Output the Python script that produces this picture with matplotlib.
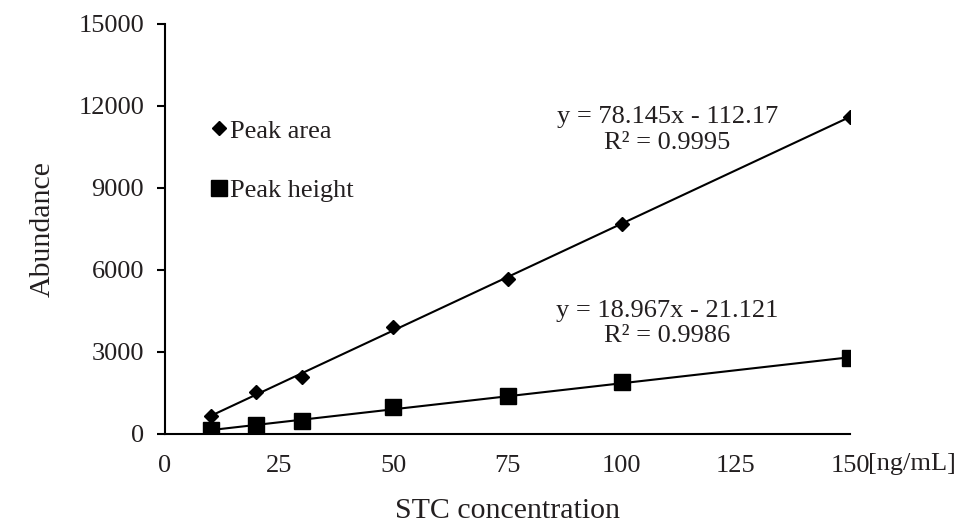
import numpy as np
import matplotlib.pyplot as plt

# concentration levels (ng/mL) and measured abundances
conc = [10, 20, 30, 50, 75, 100, 150]
peak_area = [644, 1536, 2084, 3912, 5678, 7689, 11613]
peak_height = [132, 340, 461, 973, 1375, 1887, 2779]

area_eq = "y = 78.145x - 112.17\nR² = 0.9995"
height_eq = "y = 18.967x - 21.121\nR² = 0.9986"

xticks = [0, 25, 50, 75, 100, 125, 150]
yticks = [0, 3000, 6000, 9000, 12000, 15000]

txt = '#231f20'
plt.rcParams['font.family'] = ['Liberation Serif', 'DejaVu Serif']

fig = plt.figure(figsize=(9.63, 5.27), dpi=100)
ax = fig.add_axes([165 / 963, 1 - 434 / 527, 685 / 963, 410 / 527])

# linear trendlines over the data range
xs = np.array([min(conc), max(conc)])
ka, ba = np.polyfit(conc, peak_area, 1)
kh, bh = np.polyfit(conc, peak_height, 1)
ax.plot(xs, ka * xs + ba, color='black', lw=1.5, zorder=2)
ax.plot(xs, kh * xs + bh, color='black', lw=1.5, zorder=2)

ax.plot(conc, peak_area, 'D', color='black', ms=7, ls='none', label='Peak area', zorder=3)
ax.plot(conc, peak_height, 's', color='black', ms=11, ls='none', label='Peak height', zorder=3)

ax.set_xlim(0, 150)
ax.set_ylim(0, 15000)
ax.set_xticks(xticks)
ax.set_yticks(yticks)
ax.tick_params(axis='x', length=0, pad=15, labelsize=19, labelcolor=txt)
ax.tick_params(axis='y', length=6, width=1.5, direction='out', pad=9, labelsize=19, labelcolor=txt)

for s in ['top', 'right']:
    ax.spines[s].set_visible(False)
for s in ['left', 'bottom']:
    ax.spines[s].set_linewidth(1.5)

# unit right after the last tick label
ax.annotate('[ng/mL]', xy=(1.0, 0), xycoords='axes fraction', xytext=(13, -21.5),
            textcoords='offset points', fontsize=19, color=txt, ha='left', va='center')

ax.set_xlabel('STC concentration', fontsize=21.5, color=txt, labelpad=15)
ax.set_ylabel('Abundance', fontsize=21.5, color=txt, labelpad=16)

ax.text(110, 11115, area_eq, fontsize=19, color=txt, ha='center', va='center', linespacing=1.2)
ax.text(110, 4040, height_eq, fontsize=19, color=txt, ha='center', va='center', linespacing=1.2)

leg = ax.legend(loc='upper left', bbox_to_anchor=(0.05, 0.8), frameon=False, fontsize=19,
                handlelength=0.5, handletextpad=0.15, labelspacing=1.35, borderpad=0)
for t in leg.get_texts():
    t.set_color(txt)

fig.savefig('out.png', dpi=100)
